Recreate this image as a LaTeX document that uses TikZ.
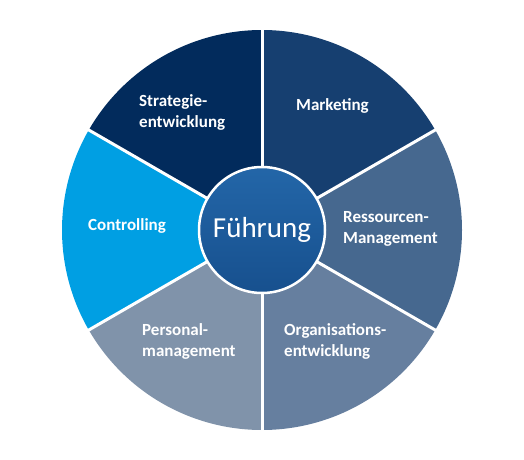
\documentclass[tikz,border=0pt]{standalone}
\usepackage{fontspec}
\setmainfont{Carlito}
\usetikzlibrary{calc}
\definecolor{cStrat}{HTML}{022B5C}
\definecolor{cMark}{HTML}{163F70}
\definecolor{cRess}{HTML}{46688F}
\definecolor{cOrg}{HTML}{667F9F}
\definecolor{cPers}{HTML}{8093AA}
\definecolor{cCtrl}{HTML}{009FE3}
\definecolor{cCenA}{HTML}{2366A8}
\definecolor{cCenB}{HTML}{17508E}
\begin{document}
\begin{tikzpicture}[x=1pt,y=1pt,
  lbl/.style={text=white,font=\fontsize{17}{21}\selectfont\bfseries,align=left,inner sep=0pt},
  sep/.style={draw=white,line width=3pt}]
\useasboundingbox (0,0) rectangle (524,459);
\coordinate (c) at (262,229);
\def\R{200}
\fill[cMark]  (c) -- ++(30:\R)  arc (30:90:\R)   -- cycle;
\fill[cStrat] (c) -- ++(90:\R)  arc (90:150:\R)  -- cycle;
\fill[cCtrl]  (c) -- ++(150:\R) arc (150:210:\R) -- cycle;
\fill[cPers]  (c) -- ++(210:\R) arc (210:270:\R) -- cycle;
\fill[cOrg]   (c) -- ++(270:\R) arc (270:330:\R) -- cycle;
\fill[cRess]  (c) -- ++(330:\R) arc (330:390:\R) -- cycle;
\foreach \a in {30,90,150,210,270,330}{
  \coordinate (e\a) at ($(c)+(\a:202)$);
}
\foreach \a in {30,90,150,210,270,330}{
  \draw[sep] (c) -- (e\a);
}
\node[circle,minimum size=126pt,inner sep=0pt,draw=white,line width=2.5pt,
  top color=cCenA,bottom color=cCenB,text=white,
  font=\fontsize{29}{35}\selectfont] (center) at (c) {Führung};
\node[lbl,anchor=west] (strat) at (139,347) {Strategie-\\entwicklung};
\node[lbl,anchor=west] (mark) at (296,353) {Marketing};
\node[lbl,anchor=west] (ress) at (343,230) {Ressourcen-\\Management};
\node[lbl,anchor=west] (ctrl) at (88,233) {Controlling};
\node[lbl,anchor=west] (pers) at (142,118) {Personal-\\management};
\node[lbl,anchor=west] (org) at (284,118) {Organisations-\\entwicklung};
\end{tikzpicture}
\end{document}
